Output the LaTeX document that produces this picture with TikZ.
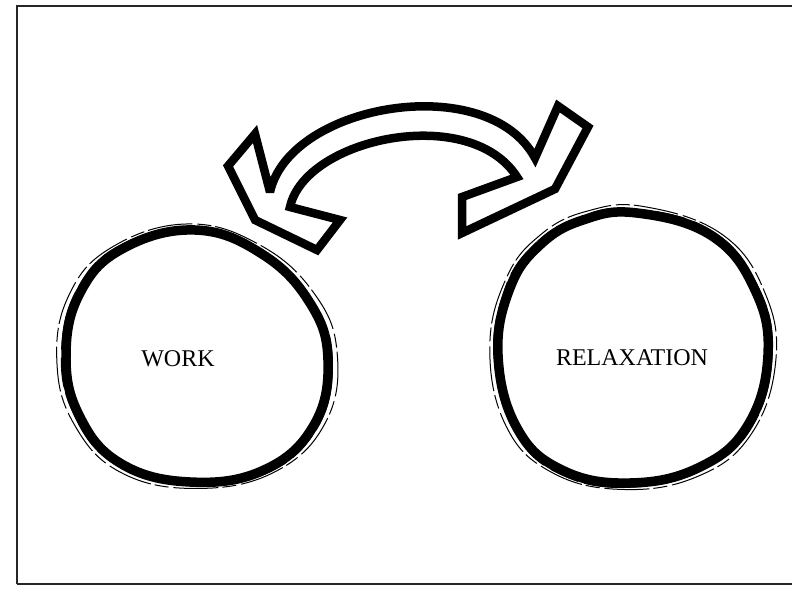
\documentclass[tikz,border=0pt]{standalone}
\usepackage{fontspec}
\setmainfont{Liberation Serif}
\begin{document}
\begin{tikzpicture}[x=1pt,y=-1pt,
  frameline/.style={line width=1.4pt, draw=black!85},
  ring/.style={line width=9.5pt, line join=round},
  sketchline/.style={line width=1pt, dash pattern=on 45pt off 5pt on 14pt off 4pt},
  blockarrow/.style={draw=black, fill=white, line width=8.5pt, line join=miter, miter limit=3},
  lbl/.style={font=\fontsize{24}{28}\selectfont, inner sep=0pt}]
\useasboundingbox (0,0) rectangle (792,589);
% frame
\draw[frameline] (17,584) -- (17,6) -- (792,6);
\draw[frameline] (17,584) -- (792,584);
% work ring
\def\workpts{(195,230) (262,254) (310,303) (328,360) (314,425) (264,470) (190,482) (120,463) (79,415) (66,355) (80,293) (122,249)}
\draw[ring] plot[smooth cycle, tension=0.7] coordinates {\workpts};
\begin{scope}[shift={(197,357)}, xscale=1.07, yscale=1.05, rotate=3, shift={(-197,-357)}]
\draw[sketchline] plot[smooth cycle, tension=0.7] coordinates {\workpts};
\end{scope}
\begin{scope}[shift={(197,357)}, xscale=1.035, yscale=1.025, rotate=-2, shift={(-197,-357)}]
\draw[sketchline, dash pattern=on 30pt off 8pt on 60pt off 6pt] plot[smooth cycle, tension=0.7] coordinates {\workpts};
\end{scope}
% relaxation ring
\def\relaxpts{(637,213) (712,236) (755,290) (768,355) (748,425) (700,467) (630,483) (562,470) (517,428) (498,355) (510,288) (540,245) (583,220)}
\draw[ring] plot[smooth cycle, tension=0.7] coordinates {\relaxpts};
\begin{scope}[shift={(632,348)}, xscale=1.06, yscale=1.05, rotate=-3, shift={(-632,-348)}]
\draw[sketchline] plot[smooth cycle, tension=0.7] coordinates {\relaxpts};
\end{scope}
\begin{scope}[shift={(632,348)}, xscale=1.03, yscale=1.03, rotate=2, shift={(-632,-348)}]
\draw[sketchline, dash pattern=on 30pt off 8pt on 60pt off 6pt] plot[smooth cycle, tension=0.7] coordinates {\relaxpts};
\end{scope}
% labels
\node[lbl] (work) at (178,359) {WORK};
\node[lbl] (relax) at (632,358) {RELAXATION};
% double-headed curved block arrow
\draw[blockarrow] (270,192) -- (255,134) -- (228,166) -- (255,220) -- (317,250) -- (340,220) -- (290,207)
  .. controls (305,138) and (470,103) .. (517,177)
  -- (462,197) -- (462,233) -- (555,189) -- (588,127) -- (558,106) -- (535,158)
  .. controls (488,70) and (290,103) .. cycle;
\end{tikzpicture}
\end{document}
